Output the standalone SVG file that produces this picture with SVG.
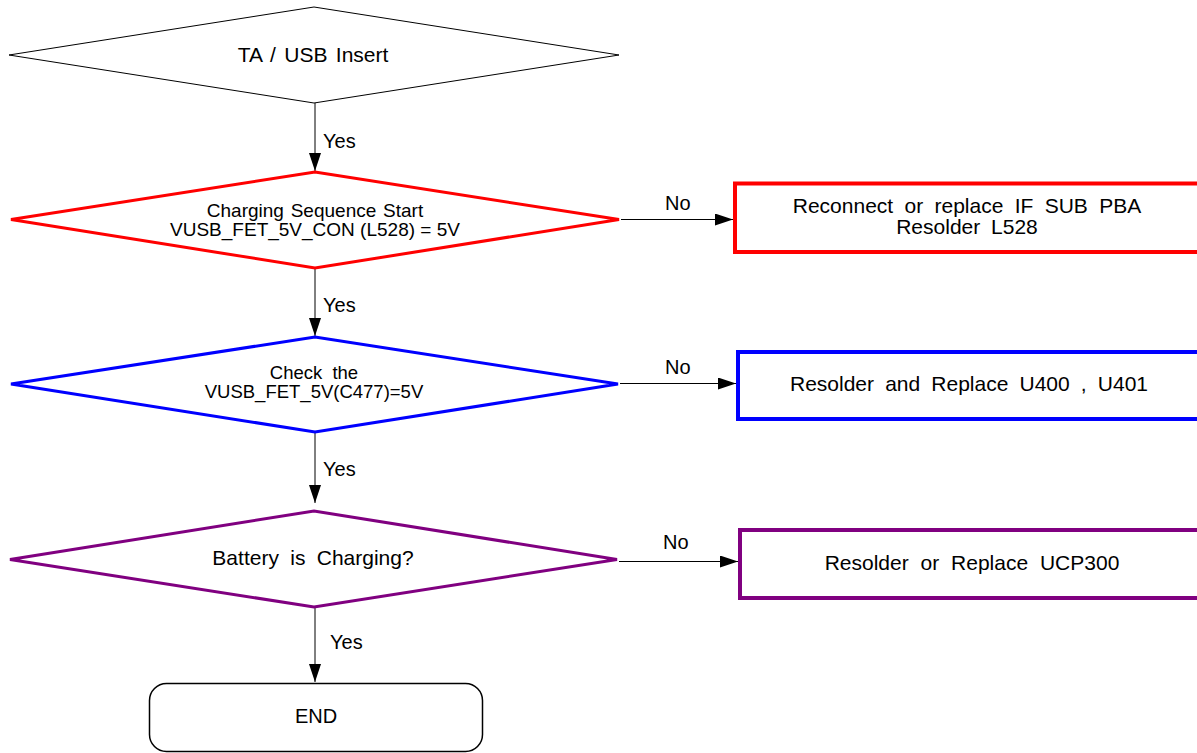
<svg xmlns="http://www.w3.org/2000/svg" width="1197" height="753" viewBox="0 0 1197 753">
<defs>
<style>
.t{font-family:"Liberation Sans",Arial,sans-serif;fill:#000;text-anchor:middle}
.l{font-family:"Liberation Sans",Arial,sans-serif;fill:#000;font-size:20px}
.c{stroke:#000;stroke-width:1;fill:none}
</style>
<marker id="ah" markerUnits="userSpaceOnUse" markerWidth="20" markerHeight="14" refX="18" refY="6" orient="auto">
<path d="M0,0 L18,6 L0,12 Z" fill="#000"/>
</marker>
</defs>
<rect width="1197" height="753" fill="#fff"/>
<g id="connectors">
<line class="c" x1="315" y1="103" x2="315" y2="171" marker-end="url(#ah)"/>
<line class="c" x1="315" y1="268" x2="315" y2="336" marker-end="url(#ah)"/>
<line class="c" x1="315" y1="433" x2="315" y2="503" marker-end="url(#ah)"/>
<line class="c" x1="315" y1="607" x2="315" y2="682" marker-end="url(#ah)"/>
<line class="c" x1="621" y1="219.5" x2="733" y2="219.5" marker-end="url(#ah)"/>
<line class="c" x1="620" y1="383.5" x2="736" y2="383.5" marker-end="url(#ah)"/>
<line class="c" x1="619" y1="561.5" x2="738" y2="561.5" marker-end="url(#ah)"/>
<text class="l" x="323" y="148">Yes</text>
<text class="l" x="323" y="312">Yes</text>
<text class="l" x="323" y="476">Yes</text>
<text class="l" x="330" y="649">Yes</text>
<text class="l" x="665" y="210">No</text>
<text class="l" x="665" y="374">No</text>
<text class="l" x="663" y="549">No</text>
</g>
<g id="start">
<polygon points="9,55 314,7 619,55 314,103" fill="#fff" stroke="#000" stroke-width="1"/>
<text class="t" x="313" y="62" font-size="21" word-spacing="2.5">TA / USB Insert</text>
</g>
<g id="check-l528">
<polygon points="11,219.5 315,172 619,219.5 315,268" fill="#fff" stroke="#ff0000" stroke-width="3"/>
<text class="t" x="315" y="217" font-size="19" word-spacing="1.5">Charging Sequence Start</text>
<text class="t" x="315" y="236" font-size="19">VUSB_FET_5V_CON (L528) = 5V</text>
</g>
<g id="fix-l528">
<rect x="735" y="183.5" width="470" height="68.5" fill="#fff" stroke="#ff0000" stroke-width="4"/>
<text class="t" x="967" y="213" font-size="21" word-spacing="5.5">Reconnect or replace IF SUB PBA</text>
<text class="t" x="967" y="234" font-size="21" word-spacing="5">Resolder L528</text>
</g>
<g id="check-c477">
<polygon points="11,384 315,337 618,384 315,432" fill="#fff" stroke="#0000ff" stroke-width="3"/>
<text class="t" x="314" y="379" font-size="18.5" word-spacing="5">Check the</text>
<text class="t" x="314" y="398" font-size="18.5">VUSB_FET_5V(C477)=5V</text>
</g>
<g id="fix-u400">
<rect x="738" y="352" width="470" height="67" fill="#fff" stroke="#0000ff" stroke-width="4"/>
<text class="t" x="969" y="391" font-size="21" word-spacing="5.3">Resolder and Replace U400 , U401</text>
</g>
<g id="check-charging">
<polygon points="10,559.5 314,511 617,559.5 314,607" fill="#fff" stroke="#800080" stroke-width="3"/>
<text class="t" x="313" y="565" font-size="21" word-spacing="5.5">Battery is Charging?</text>
</g>
<g id="fix-ucp300">
<rect x="740" y="530" width="470" height="68" fill="#fff" stroke="#800080" stroke-width="4"/>
<text class="t" x="972" y="570" font-size="21" word-spacing="6">Resolder or Replace UCP300</text>
</g>
<g id="end">
<rect x="149.5" y="683.5" width="333" height="68" rx="17" fill="#fff" stroke="#000" stroke-width="1.5"/>
<text class="t" x="316" y="723" font-size="20">END</text>
</g>
</svg>
